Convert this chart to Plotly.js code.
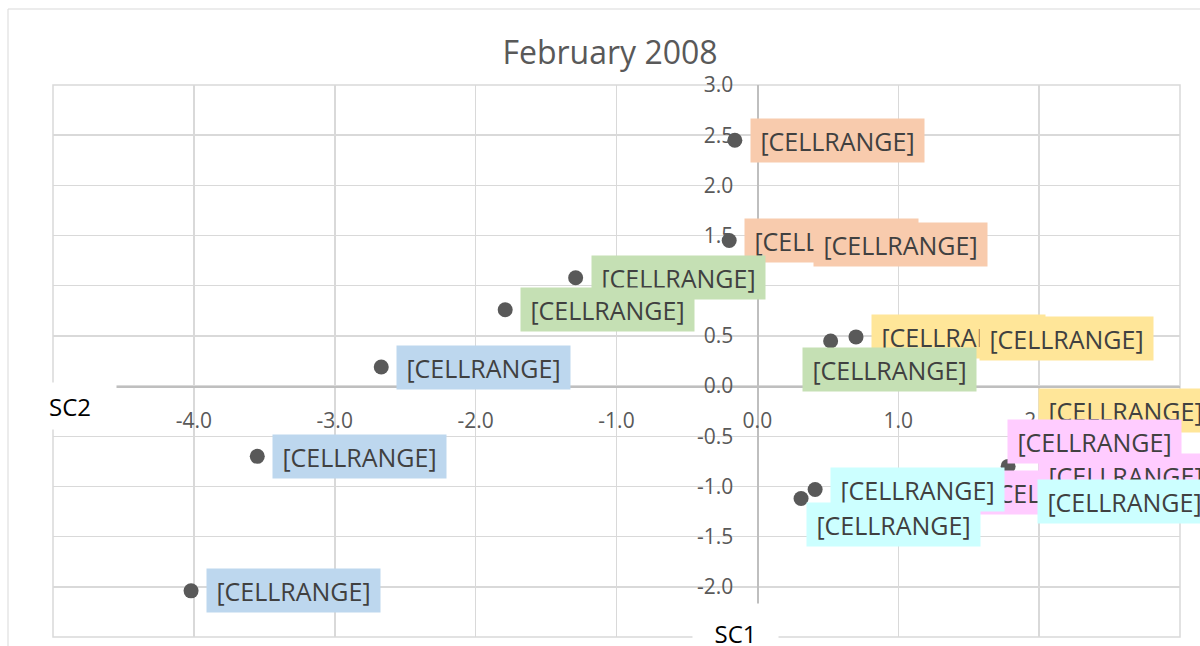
<!DOCTYPE html>
<html>
<head>
<meta charset="utf-8">
<script src="https://cdn.plot.ly/plotly-3.0.1.min.js"></script>
<style>
html,body{margin:0;padding:0;background:#fff;}
#chart{width:1200px;height:646px;}
</style>
</head>
<body>
<div id="chart"></div>
<script>
// ---- data ----
const seriesNames = ["Group A", "Group B", "Group C", "Group D", "Group E", "Group F"];
const sc1A = [-2.67, -3.55, -4.02];
const sc2A = [0.19, -0.70, -2.04];
const sc1B = [-0.16, -0.20, 0.29];
const sc2B = [2.45, 1.45, 1.41];
const sc1C = [0.70, 1.47, 2.43];
const sc2C = [0.49, 0.47, -0.24];
const sc1D = [-1.29, -1.79, 0.52];
const sc2D = [1.08, 0.76, 0.45];
const sc1E = [1.47, 2.50, 1.78];
const sc2E = [-1.06, -0.89, -0.80];
const sc1F = [0.41, 0.31, 2.57];
const sc2F = [-1.03, -1.12, -1.15];
const labelsA = ["[CELLRANGE]", "[CELLRANGE]", "[CELLRANGE]"];
const labelsB = ["[CELLRANGE]", "[CELLRANGE]", "[CELLRANGE]"];
const labelsC = ["[CELLRANGE]", "[CELLRANGE]", "[CELLRANGE]"];
const labelsD = ["[CELLRANGE]", "[CELLRANGE]", "[CELLRANGE]"];
const labelsE = ["[CELLRANGE]", "[CELLRANGE]", "[CELLRANGE]"];
const labelsF = ["[CELLRANGE]", "[CELLRANGE]", "[CELLRANGE]"];
const xTickVals = [-4, -3, -2, -1, 0, 1, 2, 3];
const xTickText = ["-4.0", "-3.0", "-2.0", "-1.0", "0.0", "1.0", "2.0", "3.0"];
const yTickVals = [-2, -1.5, -1, -0.5, 0, 0.5, 1, 1.5, 2, 2.5, 3];
const yTickText = ["-2.0", "-1.5", "-1.0", "-0.5", "0.0", "0.5", "1.0", "1.5", "2.0", "2.5", "3.0"];
const chartTitle = "February 2008";
const xTitle = "SC1";
const yTitle = "SC2";

// ---- styles ----
const labelFill = ["#BDD7EE", "#F8CBAD", "#FFE699", "#C5E0B4", "#FFCCFF", "#CCFFFF"];
// label box offsets in px: [left edge from point, vertical centre from point (down +)]
const offA = [[15,0],[15,0],[15,0]];
const offB = [[15,0],[15,0],[15,0]];
const offC = [[15,0],[15,0],[-62,0]];
const offD = [[15,0],[15,0],[-29,29]];
const offE = [[15,0],[-72,0],[-1,-25]];
const offF = [[15,0],[5,26],[-82,0]];

const groups = [
  {x: sc1A, y: sc2A, t: labelsA, o: offA},
  {x: sc1B, y: sc2B, t: labelsB, o: offB},
  {x: sc1C, y: sc2C, t: labelsC, o: offC},
  {x: sc1D, y: sc2D, t: labelsD, o: offD},
  {x: sc1E, y: sc2E, t: labelsE, o: offE},
  {x: sc1F, y: sc2F, t: labelsF, o: offF}
];

const FONT = "'Open Sans', 'DejaVu Sans', sans-serif";
const GRID = "#d9d9d9";

const traces = groups.map((g, i) => ({
  type: "scatter",
  mode: "markers",
  name: seriesNames[i],
  x: g.x,
  y: g.y,
  marker: {size: 15, color: "#595959"},
  showlegend: false,
  cliponaxis: false,
  hoverinfo: "x+y"
}));

const annotations = [];
groups.forEach((g, i) => {
  g.x.forEach((xv, j) => {
    annotations.push({
      xref: "x", yref: "y", x: xv, y: g.y[j],
      text: g.t[j], showarrow: false,
      xanchor: "left", yanchor: "middle",
      xshift: g.o[j][0], yshift: -g.o[j][1],
      width: 173, height: 43, borderpad: 0,
      bgcolor: labelFill[i], align: "center", valign: "middle",
      font: {family: FONT, size: 25, color: "#404040"}
    });
  });
});

// axis titles with white boxes (Excel-style placement)
annotations.push({
  xref: "paper", yref: "paper", x: (692 - 53) / 1127, y: (637 - 603) / 552,
  xanchor: "left", yanchor: "top", width: 85, height: 58, borderpad: 0,
  bgcolor: "#ffffff", text: xTitle, showarrow: false, align: "center", valign: "middle",
  font: {family: FONT, size: 24, color: "#000000"}
});
annotations.push({
  xref: "paper", yref: "paper", x: (48 - 53) / 1127, y: (637 - 382) / 552,
  xanchor: "left", yanchor: "top", width: 67, height: 46, borderpad: 0,
  bgcolor: "#ffffff", text: yTitle, showarrow: false, align: "left", valign: "middle",
  font: {family: FONT, size: 24, color: "#000000"}
});

const layout = {
  width: 1200, height: 646,
  margin: {l: 53, r: 20, t: 85, b: 9, pad: 0},
  paper_bgcolor: "#ffffff",
  plot_bgcolor: "#ffffff",
  showlegend: false,
  title: {
    text: chartTitle, x: 610 / 1200, xanchor: "center",
    y: 1 - 53 / 646, yanchor: "middle",
    font: {family: FONT, size: 32, color: "#595959"}
  },
  xaxis: {
    range: [-5, 3], tickmode: "array", tickvals: xTickVals, ticktext: xTickText,
    showgrid: true, gridcolor: GRID, gridwidth: 1.5,
    zeroline: false, showline: true, linecolor: "#bfbfbf", linewidth: 1.5,
    anchor: "free", position: 2.5 / 5.5,
    ticks: "", ticklabelstandoff: 15,
    tickfont: {family: FONT, size: 21, color: "#595959"},
    layer: "below traces", fixedrange: true
  },
  yaxis: {
    range: [-2.5, 3], tickmode: "array", tickvals: yTickVals, ticktext: yTickText,
    showgrid: true, gridcolor: GRID, gridwidth: 1.5,
    zeroline: false, showline: true, linecolor: "#bfbfbf", linewidth: 1.5,
    anchor: "free", position: 5 / 8,
    ticks: "", ticklabelstandoff: 20,
    tickfont: {family: FONT, size: 21, color: "#595959"},
    layer: "below traces", fixedrange: true
  },
  shapes: [
    {
      type: "rect", xref: "paper", yref: "paper", layer: "below",
      x0: (8 - 53) / 1127, x1: (1300 - 53) / 1127,
      y0: (637 - 760) / 552, y1: (637 - 9) / 552,
      line: {color: GRID, width: 1}, fillcolor: "rgba(0,0,0,0)"
    },
    {
      type: "rect", xref: "paper", yref: "paper", layer: "below",
      x0: 0, x1: 1, y0: 0, y1: 1,
      line: {color: GRID, width: 1.5}, fillcolor: "rgba(0,0,0,0)"
    }
  ],
  annotations: annotations
};

Plotly.newPlot("chart", traces, layout, {displayModeBar: false, staticPlot: true});
</script>
</body>
</html>
